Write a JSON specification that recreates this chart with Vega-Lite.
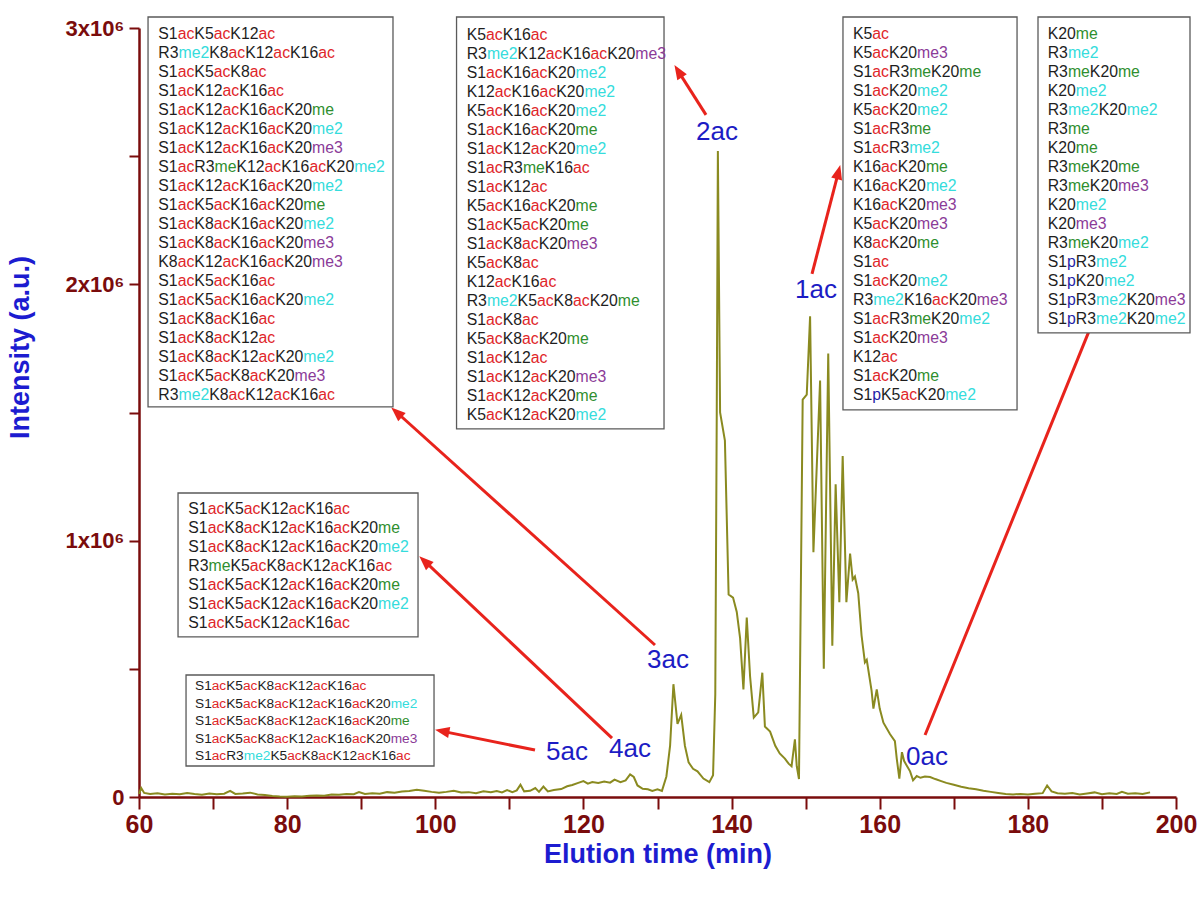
{
  "$schema": "https://vega.github.io/schema/vega-lite/v6.json",
  "width": 1037,
  "height": 769,
  "autosize": {"type": "none"},
  "padding": {"left": 139, "top": 28, "right": 24, "bottom": 103},
  "background": "white",
  "config": {"view": {"stroke": null}, "axis": {"grid": false}},
  "datasets": {
    "trace": [
      {"t":60.0,"v":12000},{"t":60.3,"v":35000},{"t":60.7,"v":16000},{"t":61.5,"v":12000},{"t":62.5,"v":15000},{"t":63.5,"v":10000},{"t":64.5,"v":13000},{"t":65.5,"v":11000},{"t":66.5,"v":16000},{"t":67.5,"v":12000},{"t":68.5,"v":9000},{"t":69.5,"v":14000},{"t":70.5,"v":11000},{"t":71.5,"v":13000},{"t":72.3,"v":24000},{"t":73.0,"v":12000},{"t":74.0,"v":14000},{"t":75.0,"v":17000},{"t":76.0,"v":10000},{"t":77.0,"v":8000},{"t":78.0,"v":4000},{"t":79.0,"v":2000},{"t":80.0,"v":1000},{"t":81.0,"v":3000},{"t":82.0,"v":2000},{"t":83.0,"v":5000},{"t":84.0,"v":6000},{"t":85.0,"v":5000},{"t":86.0,"v":10000},{"t":87.0,"v":9000},{"t":88.0,"v":12000},{"t":89.0,"v":11000},{"t":89.7,"v":19000},{"t":90.5,"v":12000},{"t":91.5,"v":15000},{"t":92.5,"v":13000},{"t":93.5,"v":19000},{"t":94.5,"v":17000},{"t":95.5,"v":21000},{"t":96.5,"v":23000},{"t":97.5,"v":28000},{"t":98.5,"v":24000},{"t":99.5,"v":20000},{"t":100.5,"v":17000},{"t":101.5,"v":20000},{"t":102.5,"v":24000},{"t":103.5,"v":18000},{"t":104.5,"v":19000},{"t":105.5,"v":15000},{"t":106.5,"v":22000},{"t":107.5,"v":19000},{"t":108.3,"v":23000},{"t":109.0,"v":18000},{"t":109.7,"v":27000},{"t":110.4,"v":19000},{"t":111.0,"v":26000},{"t":111.5,"v":48000},{"t":112.0,"v":22000},{"t":112.8,"v":24000},{"t":113.5,"v":35000},{"t":114.0,"v":20000},{"t":114.6,"v":41000},{"t":115.2,"v":22000},{"t":116.0,"v":27000},{"t":117.0,"v":31000},{"t":117.8,"v":42000},{"t":118.5,"v":47000},{"t":119.3,"v":55000},{"t":120.0,"v":62000},{"t":120.6,"v":52000},{"t":121.2,"v":58000},{"t":122.0,"v":55000},{"t":122.8,"v":60000},{"t":123.6,"v":56000},{"t":124.2,"v":68000},{"t":125.0,"v":58000},{"t":125.7,"v":65000},{"t":126.3,"v":88000},{"t":126.8,"v":78000},{"t":127.3,"v":45000},{"t":128.0,"v":32000},{"t":128.7,"v":30000},{"t":129.3,"v":24000},{"t":130.0,"v":30000},{"t":130.6,"v":24000},{"t":131.2,"v":80000},{"t":131.7,"v":200000},{"t":132.15,"v":440000},{"t":132.7,"v":285000},{"t":133.2,"v":320000},{"t":133.7,"v":200000},{"t":134.2,"v":135000},{"t":134.8,"v":110000},{"t":135.4,"v":100000},{"t":136.2,"v":72000},{"t":137.0,"v":58000},{"t":137.5,"v":85000},{"t":137.8,"v":400000},{"t":138.0,"v":1500000},{"t":138.15,"v":2520000},{"t":138.45,"v":1500000},{"t":139.1,"v":1390000},{"t":139.6,"v":790000},{"t":140.2,"v":778000},{"t":140.7,"v":722000},{"t":141.15,"v":620000},{"t":141.6,"v":420000},{"t":142.05,"v":700000},{"t":142.5,"v":470000},{"t":143.0,"v":310000},{"t":143.6,"v":330000},{"t":144.15,"v":485000},{"t":144.5,"v":275000},{"t":145.2,"v":255000},{"t":145.9,"v":200000},{"t":146.5,"v":170000},{"t":147.2,"v":150000},{"t":147.7,"v":130000},{"t":148.1,"v":120000},{"t":148.55,"v":225000},{"t":148.8,"v":120000},{"t":149.1,"v":70000},{"t":149.6,"v":1550000},{"t":150.15,"v":1570000},{"t":150.6,"v":1875000},{"t":151.05,"v":955000},{"t":151.95,"v":1625000},{"t":152.45,"v":500000},{"t":153.05,"v":1730000},{"t":153.6,"v":590000},{"t":154.05,"v":1220000},{"t":154.55,"v":760000},{"t":155.0,"v":1330000},{"t":155.5,"v":760000},{"t":156.0,"v":950000},{"t":156.35,"v":848000},{"t":156.65,"v":860000},{"t":157.1,"v":795000},{"t":157.55,"v":630000},{"t":158.0,"v":525000},{"t":158.25,"v":535000},{"t":158.9,"v":415000},{"t":159.15,"v":345000},{"t":159.6,"v":420000},{"t":160.0,"v":345000},{"t":160.5,"v":290000},{"t":161.4,"v":245000},{"t":162.05,"v":218000},{"t":162.3,"v":150000},{"t":162.65,"v":72000},{"t":163.0,"v":175000},{"t":163.3,"v":140000},{"t":163.7,"v":120000},{"t":164.1,"v":100000},{"t":164.5,"v":65000},{"t":165.0,"v":82000},{"t":165.5,"v":75000},{"t":166.1,"v":80000},{"t":166.8,"v":78000},{"t":167.5,"v":70000},{"t":168.3,"v":62000},{"t":169.0,"v":55000},{"t":170.0,"v":48000},{"t":171.0,"v":40000},{"t":172.0,"v":34000},{"t":173.0,"v":30000},{"t":174.0,"v":24000},{"t":175.0,"v":20000},{"t":176.0,"v":16000},{"t":177.0,"v":12000},{"t":178.0,"v":10000},{"t":179.0,"v":12000},{"t":180.0,"v":10000},{"t":181.0,"v":13000},{"t":182.0,"v":15000},{"t":182.6,"v":45000},{"t":183.2,"v":22000},{"t":184.0,"v":15000},{"t":185.0,"v":13000},{"t":186.0,"v":16000},{"t":187.0,"v":10000},{"t":188.0,"v":14000},{"t":189.0,"v":18000},{"t":190.0,"v":11000},{"t":191.0,"v":15000},{"t":192.0,"v":12000},{"t":192.7,"v":20000},{"t":193.5,"v":13000},{"t":194.5,"v":15000},{"t":195.5,"v":12000},{"t":196.5,"v":18000}
    ],
    "boxes": [
      {"b":"A","x1":61.22,"x2":94.29,"y1":3043000,"y2":1521700,"tx":62.61,"ty":2975800},
      {"b":"B","x1":102.87,"x2":130.88,"y1":3043000,"y2":1435800,"tx":104.24,"ty":2971100},
      {"b":"C","x1":155.04,"x2":178.54,"y1":3043000,"y2":1510000,"tx":156.39,"ty":2975000},
      {"b":"D","x1":181.37,"x2":201.89,"y1":3043000,"y2":1810400,"tx":182.68,"ty":2975000},
      {"b":"E","x1":65.27,"x2":97.67,"y1":1186000,"y2":624300,"tx":66.66,"ty":1123700},
      {"b":"F","x1":66.35,"x2":99.83,"y1":476000,"y2":121000,"tx":67.56,"ty":433000}
    ],
    "lines": [
      {"b":"A","L":["S1|ac|K5|ac|K12|ac","R3|me2|K8|ac|K12|ac|K16|ac","S1|ac|K5|ac|K8|ac","S1|ac|K12|ac|K16|ac","S1|ac|K12|ac|K16|ac|K20|me","S1|ac|K12|ac|K16|ac|K20|me2","S1|ac|K12|ac|K16|ac|K20|me3","S1|ac|R3|me|K12|ac|K16|ac|K20|me2","S1|ac|K12|ac|K16|ac|K20|me2","S1|ac|K5|ac|K16|ac|K20|me","S1|ac|K8|ac|K16|ac|K20|me2","S1|ac|K8|ac|K16|ac|K20|me3","K8|ac|K12|ac|K16|ac|K20|me3","S1|ac|K5|ac|K16|ac","S1|ac|K5|ac|K16|ac|K20|me2","S1|ac|K8|ac|K16|ac","S1|ac|K8|ac|K12|ac","S1|ac|K8|ac|K12|ac|K20|me2","S1|ac|K5|ac|K8|ac|K20|me3","R3|me2|K8|ac|K12|ac|K16|ac"]},
      {"b":"B","L":["K5|ac|K16|ac","R3|me2|K12|ac|K16|ac|K20|me3","S1|ac|K16|ac|K20|me2","K12|ac|K16|ac|K20|me2","K5|ac|K16|ac|K20|me2","S1|ac|K16|ac|K20|me","S1|ac|K12|ac|K20|me2","S1|ac|R3|me|K16|ac","S1|ac|K12|ac","K5|ac|K16|ac|K20|me","S1|ac|K5|ac|K20|me","S1|ac|K8|ac|K20|me3","K5|ac|K8|ac","K12|ac|K16|ac","R3|me2|K5|ac|K8|ac|K20|me","S1|ac|K8|ac","K5|ac|K8|ac|K20|me","S1|ac|K12|ac","S1|ac|K12|ac|K20|me3","S1|ac|K12|ac|K20|me","K5|ac|K12|ac|K20|me2"]},
      {"b":"C","L":["K5|ac","K5|ac|K20|me3","S1|ac|R3|me|K20|me","S1|ac|K20|me2","K5|ac|K20|me2","S1|ac|R3|me","S1|ac|R3|me2","K16|ac|K20|me","K16|ac|K20|me2","K16|ac|K20|me3","K5|ac|K20|me3","K8|ac|K20|me","S1|ac","S1|ac|K20|me2","R3|me2|K16|ac|K20|me3","S1|ac|R3|me|K20|me2","S1|ac|K20|me3","K12|ac","S1|ac|K20|me","S1|p|K5|ac|K20|me2"]},
      {"b":"D","L":["K20|me","R3|me2","R3|me|K20|me","K20|me2","R3|me2|K20|me2","R3|me","K20|me","R3|me|K20|me","R3|me|K20|me3","K20|me2","K20|me3","R3|me|K20|me2","S1|p|R3|me2","S1|p|K20|me2","S1|p|R3|me2|K20|me3","S1|p|R3|me2|K20|me2"]},
      {"b":"E","L":["S1|ac|K5|ac|K12|ac|K16|ac","S1|ac|K8|ac|K12|ac|K16|ac|K20|me","S1|ac|K8|ac|K12|ac|K16|ac|K20|me2","R3|me|K5|ac|K8|ac|K12|ac|K16|ac","S1|ac|K5|ac|K12|ac|K16|ac|K20|me","S1|ac|K5|ac|K12|ac|K16|ac|K20|me2","S1|ac|K5|ac|K12|ac|K16|ac"]},
      {"b":"F","L":["S1|ac|K5|ac|K8|ac|K12|ac|K16|ac","S1|ac|K5|ac|K8|ac|K12|ac|K16|ac|K20|me2","S1|ac|K5|ac|K8|ac|K12|ac|K16|ac|K20|me","S1|ac|K5|ac|K8|ac|K12|ac|K16|ac|K20|me3","S1|ac|R3|me2|K5|ac|K8|ac|K12|ac|K16|ac"]}
    ],
    "arrows": [
      {"a":"3ac","x1":129.66,"y1":593000,"hx":94.86,"hy":1499000,"ang":312},
      {"a":"2ac","x1":136.55,"y1":2661000,"hx":132.86,"hy":2829000,"ang":328},
      {"a":"1ac","x1":150.86,"y1":2041000,"hx":154.40,"hy":2435000,"ang":14.5},
      {"a":"0ac","x1":166.12,"y1":242000,"hx":190.60,"hy":1984000,"ang":22},
      {"a":"4ac","x1":123.86,"y1":230000,"hx":98.63,"hy":918000,"ang":313},
      {"a":"5ac","x1":113.46,"y1":183000,"hx":101.03,"hy":256000,"ang":281}
    ],
    "labels": [
      {"l":"2ac","x":138.03,"y":2594600},
      {"l":"1ac","x":151.40,"y":1978200},
      {"l":"3ac","x":131.42,"y":534500},
      {"l":"0ac","x":166.39,"y":156100},
      {"l":"4ac","x":126.29,"y":187300},
      {"l":"5ac","x":117.78,"y":175600}
    ]
  },
  "layer": [
    {
      "data": {"name": "trace"},
      "mark": {"type": "line", "color": "#8a8a20", "strokeWidth": 2, "interpolate": "linear"},
      "encoding": {
        "x": {"field": "t", "type": "quantitative",
          "scale": {"domain": [60, 200], "nice": false, "zero": false},
          "axis": {"title": "Elution time (min)", "values": [60,70,80,90,100,110,120,130,140,150,160,170,180,190,200],
            "labelExpr": "datum.value % 20 === 0 ? datum.label : ''",
            "domainColor": "#7a0c0c", "domainWidth": 2.5, "tickColor": "#7a0c0c", "tickWidth": 2, "tickSize": 12,
            "labelFont": "Liberation Sans", "labelFontWeight": "bold", "labelFontSize": 25, "labelColor": "#7a0c0c", "labelPadding": 3,
            "labelFlush": false, "labelOverlap": false,
            "titleFont": "Liberation Sans", "titleFontWeight": "bold", "titleFontSize": 27, "titleColor": "#1c1cd0", "titlePadding": 4}},
        "y": {"field": "v", "type": "quantitative",
          "scale": {"domain": [0, 3000000], "nice": false, "zero": false},
          "axis": {"title": "Intensity (a.u.)", "values": [0,500000,1000000,1500000,2000000,2500000,3000000],
            "labelExpr": "datum.value === 0 ? '0' : (datum.value % 1000000 === 0 ? (datum.value/1000000) + 'x10⁶' : '')",
            "domainColor": "#7a0c0c", "domainWidth": 2.5, "tickColor": "#7a0c0c", "tickWidth": 2, "tickSize": 10,
            "labelFont": "Liberation Sans", "labelFontWeight": "bold", "labelFontSize": 22, "labelColor": "#7a0c0c", "labelPadding": 5,
            "labelOverlap": false, "labelFlush": false,
            "titleFont": "Liberation Sans", "titleFontWeight": "bold", "titleFontSize": 27, "titleColor": "#1c1cd0",
            "titleX": -119, "titleY": 319, "titleAlign": "center", "titleBaseline": "middle", "titleAngle": -90}}
      }
    },
    {
      "data": {"name": "arrows"},
      "mark": {"type": "rule", "color": "#e8231c", "strokeWidth": 3},
      "encoding": {
        "x": {"field": "x1", "type": "quantitative"},
        "y": {"field": "y1", "type": "quantitative"},
        "x2": {"field": "hx"},
        "y2": {"field": "hy"}
      }
    },
    {
      "data": {"name": "arrows"},
      "mark": {"type": "point", "shape": "M0,-1L0.7,0.8L-0.7,0.8Z", "filled": true, "size": 256, "color": "#e8231c", "opacity": 1},
      "encoding": {
        "x": {"field": "hx", "type": "quantitative"},
        "y": {"field": "hy", "type": "quantitative"},
        "angle": {"field": "ang", "type": "quantitative", "scale": null}
      }
    },
    {
      "data": {"name": "boxes"},
      "mark": {"type": "rect", "fill": "white", "stroke": "#5a5a5a", "strokeWidth": 1.3},
      "encoding": {
        "x": {"field": "x1", "type": "quantitative"},
        "x2": {"field": "x2"},
        "y": {"field": "y1", "type": "quantitative"},
        "y2": {"field": "y2"}
      }
    },
    {
      "data": {"name": "lines"},
      "transform": [
        {"flatten": ["L"], "as": ["t"]},
        {"window": [{"op": "row_number", "as": "i"}], "groupby": ["b"]},
        {"lookup": "b", "from": {"data": {"name": "boxes"}, "key": "b", "fields": ["tx", "ty"]}},
        {"calculate": "split(datum.t, '|')", "as": "segs"},
        {"flatten": ["segs"], "as": ["seg"]},
        {"window": [{"op": "row_number", "as": "k"}], "groupby": ["b", "i"]},
        {"calculate": "join(slice(split(datum.t, '|'), 0, datum.k - 1), '')", "as": "pre"},
        {"calculate": "length(datum.pre)*0.556 - 0.056*(length(datum.pre)-length(replace(datum.pre, regexp('c','g'), ''))) + 0.277*(length(datum.pre)-length(replace(datum.pre, regexp('m','g'), ''))) + 0.111*(length(datum.pre)-length(replace(datum.pre, regexp('[SK]','g'), ''))) + 0.166*(length(datum.pre)-length(replace(datum.pre, regexp('R','g'), '')))", "as": "em"},
        {"calculate": "datum.tx + datum.em * (datum.b === 'F' ? 13.7 : 15.8) / 7.4071", "as": "xx"},
        {"calculate": "indexof(['ac','me','me2','me3','p'], datum.seg) >= 0 ? datum.seg : 'n'", "as": "c"},
        {"calculate": "datum.ty - (datum.i - 1) * (datum.b === 'F' ? 68300 : 74100)", "as": "yy"}
      ],
      "mark": {"type": "text", "font": "Liberation Sans", "align": "left", "baseline": "middle"},
      "encoding": {
        "x": {"field": "xx", "type": "quantitative"},
        "y": {"field": "yy", "type": "quantitative"},
        "text": {"field": "seg"},
        "color": {"field": "c", "type": "nominal", "legend": null,
          "scale": {"domain": ["n","ac","me","me2","me3","p"], "range": ["#1e1e1e","#e0262a","#2f8f2f","#35dcdc","#8b3b98","#1f1fa8"]}},
        "size": {"condition": {"test": "datum.b === 'F'", "value": 13.7}, "value": 15.8}
      }
    },
    {
      "data": {"name": "labels"},
      "mark": {"type": "text", "font": "Liberation Sans", "fontSize": 26, "color": "#1c1cc4", "align": "center", "baseline": "middle"},
      "encoding": {
        "x": {"field": "x", "type": "quantitative"},
        "y": {"field": "y", "type": "quantitative"},
        "text": {"field": "l"}
      }
    }
  ]
}
